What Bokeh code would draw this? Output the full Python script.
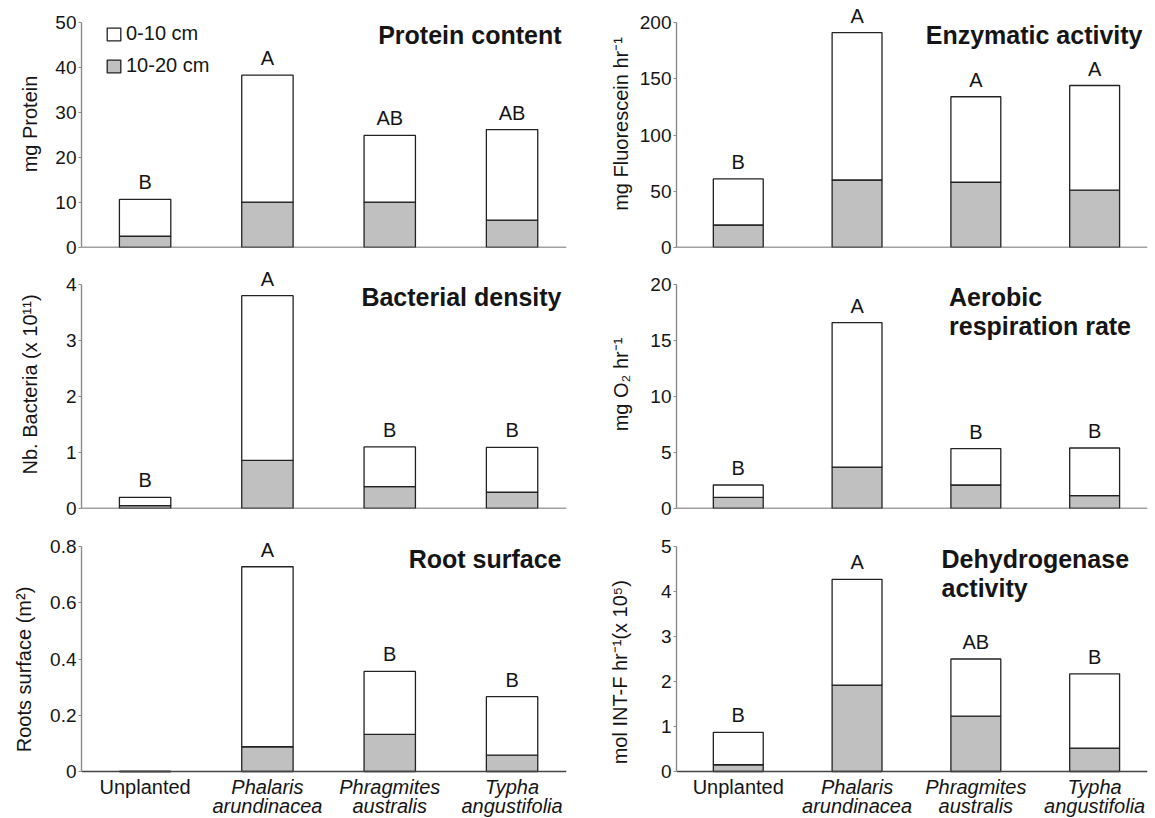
from bokeh.plotting import figure
from bokeh.models import (ColumnDataSource, Range1d, FixedTicker, Legend, LegendItem, Label)
from bokeh.layouts import column, row
from bokeh.embed import file_html
from bokeh.resources import INLINE

# ---------------- data ----------------
categories = ["Unplanted", "Phalaris\narundinacea", "Phragmites\naustralis", "Typha\nangustifolia"]
cat_italic = [False, True, True, True]

protein_deep = [2.5, 10.1, 10.1, 6.1]
protein_shallow = [8.2, 28.2, 14.8, 20.1]
protein_letters = ["B", "A", "AB", "AB"]

enzyme_deep = [20, 60, 58, 51]
enzyme_shallow = [41, 131, 76, 93]
enzyme_letters = ["B", "A", "A", "A"]

bacteria_deep = [0.05, 0.86, 0.39, 0.29]
bacteria_shallow = [0.15, 2.94, 0.71, 0.80]
bacteria_letters = ["B", "A", "B", "B"]

respiration_deep = [1.0, 3.7, 2.1, 1.15]
respiration_shallow = [1.1, 12.9, 3.25, 4.25]
respiration_letters = ["B", "A", "B", "B"]

roots_deep = [0.0, 0.088, 0.132, 0.058]
roots_shallow = [0.0, 0.640, 0.224, 0.208]
roots_letters = ["", "A", "B", "B"]

dehydro_deep = [0.15, 1.92, 1.23, 0.52]
dehydro_shallow = [0.72, 2.35, 1.27, 1.65]
dehydro_letters = ["B", "A", "AB", "B"]

protein_ticks = [0, 10, 20, 30, 40, 50]
enzyme_ticks = [0, 50, 100, 150, 200]
bacteria_ticks = [0, 1, 2, 3, 4]
respiration_ticks = [0, 5, 10, 15, 20]
roots_ticks = [0.0, 0.2, 0.4, 0.6, 0.8]
dehydro_ticks = [0, 1, 2, 3, 4, 5]

legend_labels = ["0-10 cm", "10-20 cm"]

FONT = "Liberation Sans"
TXT = "#151515"
YAX = "#8a8a8a"
XAX = "#444444"
GRAY = "#c0c0c0"
X0, X1 = -0.52, 3.445


def panel(deep, shallow, letters, ticks, ylabel, title, side, rowpos,
          label_standoff, title_left=None, legend=False, xlabels=False):
    if side == "left":
        frame_w, b_left, b_right = 485, 81, 19
    else:
        frame_w, b_left, b_right = 471, 91, 8
    ymax = ticks[-1]
    # (frame height, bottom border, px of y=0 from frame top, px spanned by 0..ymax)
    if rowpos == "top":
        frame_h, b_bot, zero_px, span_px = 247, 13, 247, 225
    elif rowpos == "mid":
        frame_h, b_bot, zero_px, span_px = 248, 12, 248, 224
    else:
        frame_h, b_bot, zero_px, span_px = 298, 0, 251, 225
    y_end = ymax * zero_px / span_px
    y_start = -ymax * (frame_h - zero_px) / span_px

    p = figure(frame_width=frame_w, frame_height=frame_h,
               min_border_left=b_left, min_border_right=b_right,
               min_border_top=0, min_border_bottom=b_bot,
               x_range=Range1d(X0, X1), y_range=Range1d(y_start, y_end),
               output_backend="svg", toolbar_location=None, tools="")
    p.outline_line_color = None
    p.xgrid.visible = False
    p.ygrid.visible = False
    p.background_fill_color = "white"
    p.border_fill_color = "white"

    xs = list(range(len(categories)))
    totals = [d + s for d, s in zip(deep, shallow)]
    src = ColumnDataSource(dict(x=xs, deep=deep, shallow=shallow))
    rs = p.vbar_stack(["deep", "shallow"], x="x", width=0.42, source=src,
                      fill_color=[GRAY, "white"], line_color="#222222",
                      line_width=1.3)

    # axes
    p.xaxis.fixed_location = 0
    p.xaxis.ticker = FixedTicker(ticks=[])
    p.xaxis.axis_line_color = XAX
    p.xaxis.axis_line_width = 1.4
    p.xaxis.major_tick_line_color = None
    p.xaxis.major_tick_out = 0
    p.xaxis.major_tick_in = 0
    p.xaxis.major_label_standoff = 0
    p.xaxis.minor_tick_line_color = None
    p.xaxis.minor_tick_out = 0

    p.yaxis.bounds = (0, ymax)
    p.yaxis.ticker = FixedTicker(ticks=ticks)
    p.yaxis.axis_line_color = YAX
    p.yaxis.axis_line_width = 1.4
    p.yaxis.major_tick_line_color = YAX
    p.yaxis.major_tick_out = 3
    p.yaxis.major_tick_in = 0
    p.yaxis.minor_tick_line_color = None
    p.yaxis.major_label_text_font = FONT
    p.yaxis.major_label_text_font_size = "19px"
    p.yaxis.major_label_text_color = TXT
    p.yaxis.major_label_standoff = 2
    p.yaxis.axis_label = ylabel
    p.yaxis.axis_label_text_font = FONT
    p.yaxis.axis_label_text_font_size = "20px"
    p.yaxis.axis_label_text_font_style = "normal"
    p.yaxis.axis_label_text_color = TXT
    p.yaxis.axis_label_standoff = label_standoff

    # significance letters
    for xi, tot, let in zip(xs, totals, letters):
        if let:
            p.add_layout(Label(x=xi, y=tot, text=let, text_align="center",
                               text_baseline="bottom", y_offset=6,
                               text_font=FONT, text_font_size="20px",
                               text_color=TXT))

    # panel title
    if title_left is None:
        p.add_layout(Label(x=X1, y=ymax, text=title, text_align="right",
                           text_baseline="top", x_offset=-5, y_offset=2,
                           text_font=FONT, text_font_size="25px",
                           text_font_style="bold", text_color=TXT))
    else:
        p.add_layout(Label(x=title_left, y=ymax, text=title, text_align="left",
                           text_baseline="top", y_offset=2, text_line_height=1.07,
                           text_font=FONT, text_font_size="25px",
                           text_font_style="bold", text_color=TXT))

    if legend:
        leg = Legend(items=[LegendItem(label=legend_labels[0], renderers=[rs[1]]),
                            LegendItem(label=legend_labels[1], renderers=[rs[0]])],
                     location=(24, 170), padding=0, margin=0, spacing=9,
                     glyph_width=17, glyph_height=16, label_standoff=4,
                     label_text_font=FONT, label_text_font_size="20px",
                     label_text_color=TXT, border_line_color=None,
                     background_fill_alpha=0)
        p.add_layout(leg)

    if xlabels:
        for xi, cat, ital in zip(xs, categories, cat_italic):
            p.add_layout(Label(x=xi, y=0, text=cat, text_align="center",
                               text_baseline="top", y_offset=-4,
                               text_font=FONT, text_font_size="20px",
                               text_line_height=0.9,
                               text_font_style="italic" if ital else "normal",
                               text_color=TXT))
    return p


p1 = panel(protein_deep, protein_shallow, protein_letters, protein_ticks,
           "mg Protein", "Protein content", "left", "top", 11, legend=True)
p2 = panel(enzyme_deep, enzyme_shallow, enzyme_letters, enzyme_ticks,
           "mg Fluorescein hr\u207b\u00b9", "Enzymatic activity", "right", "top", 5)
p3 = panel(bacteria_deep, bacteria_shallow, bacteria_letters, bacteria_ticks,
           "Nb. Bacteria (x 10\u00b9\u00b9)", "Bacterial density", "left", "mid", 22)
p4 = panel(respiration_deep, respiration_shallow, respiration_letters, respiration_ticks,
           "mg O\u2082 hr\u207b\u00b9", "Aerobic\nrespiration rate", "right", "mid", 15,
           title_left=1.774)
p5 = panel(roots_deep, roots_shallow, roots_letters, roots_ticks,
           "Roots surface (m\u00b2)", "Root surface", "left", "bot", 12, xlabels=True)
p6 = panel(dehydro_deep, dehydro_shallow, dehydro_letters, dehydro_ticks,
           "mol INT-F  hr\u207b\u00b9(x 10\u2075)", "Dehydrogenase\nactivity", "right", "bot", 27,
           title_left=1.711, xlabels=True)

layout = column(row(p1, p2), row(p3, p4), row(p5, p6))
open("out.html", "w").write(file_html(layout, INLINE))
